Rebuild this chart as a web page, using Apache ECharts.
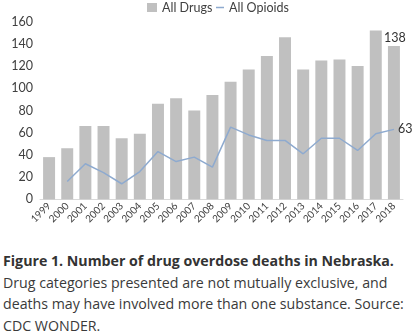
<!DOCTYPE html>
<html><head><meta charset="utf-8">
<script src="https://cdn.jsdelivr.net/npm/echarts@6/dist/echarts.min.js"></script>
<style>
html,body{margin:0;padding:0;background:#fff;}
#chart{width:419px;height:245px;}
#cap{position:absolute;left:3px;top:250px;font-family:"Open Sans",sans-serif;font-size:14.2px;line-height:21.5px;color:#3a3a3a;white-space:nowrap;}
#cap b{color:#333;}
</style></head>
<body>
<div id="chart"></div>
<div id="cap"><b>Figure 1. Number of drug overdose deaths in Nebraska.</b><br>Drug categories presented are not mutually exclusive, and<br>deaths may have involved more than one substance. Source:<br>CDC WONDER.</div>
<script>
const years = ['1999','2000','2001','2002','2003','2004','2005','2006','2007','2008','2009','2010','2011','2012','2013','2014','2015','2016','2017','2018'];
const allDrugs = [38,46,66,66,55,59,86,91,80,94,106,117,129,146,117,125,126,120,152,138];
const allOpioids = [null,16,32,24,14,25,43,34,38,29,65,58,53,53,41,55,55,44,59,63];

const chart = echarts.init(document.getElementById('chart'));
const lastIdx = allDrugs.length - 1;
const legendText = {fontSize:12.5,color:'#404040',fontFamily:'Lato'};
chart.setOption({
  animation:false,
  textStyle:{fontFamily:'Lato, sans-serif'},
  legend:[
    {top:1, left:147, padding:0, itemWidth:10, itemHeight:9, itemGap:5, textStyle:legendText,
     data:[{name:'All Drugs',icon:'rect'}]},
    {top:1, left:216, padding:0, itemWidth:8, itemHeight:1.5, itemGap:5, textStyle:legendText,
     data:[{name:'All Opioids',icon:'rect'}]}
  ],
  grid:{left:40,right:16,top:21.7,bottom:45.7,containLabel:false},
  xAxis:{
    type:'category', data:years,
    axisLine:{lineStyle:{color:'#d9d9d9'}},
    axisTick:{show:false},
    axisLabel:{rotate:45,fontSize:10,color:'#404040',margin:5,interval:0}
  },
  yAxis:{
    type:'value', min:0, max:160, interval:20,
    axisLine:{show:false}, axisTick:{show:false}, splitLine:{show:false},
    axisLabel:{fontSize:12.5,color:'#404040',margin:7}
  },
  series:[
    {name:'All Drugs',type:'bar',data:allDrugs.map((v,i)=>i===lastIdx?{value:v,label:{show:true,position:'top',distance:2,offset:[1,0],fontSize:12.5,color:'#333'}}:v),
     barCategoryGap:'34%',itemStyle:{color:'#c0c0c0'}},
    {name:'All Opioids',type:'line',data:allOpioids,symbol:'none',
     lineStyle:{color:'#8eaacf',width:1.5},itemStyle:{color:'#8eaacf'},
     endLabel:{show:true,formatter:'{c}',fontSize:12.5,color:'#333',distance:4}}
  ]
});
</script>
</body></html>
